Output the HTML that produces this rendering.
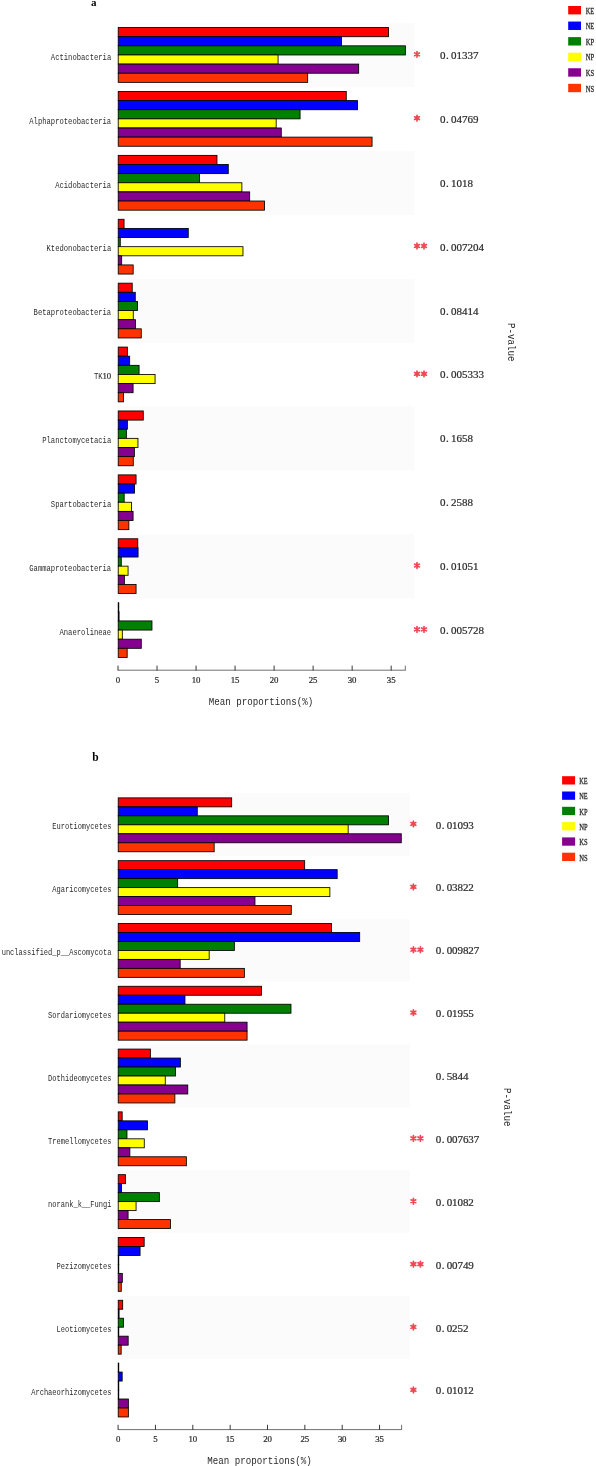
<!DOCTYPE html>
<html><head><meta charset="utf-8"><title>Mean proportions</title>
<style>
html,body{margin:0;padding:0;background:#fff;}
body{width:596px;height:1466px;overflow:hidden;font-family:"Liberation Mono",monospace;}
svg{display:block}
svg text{font-family:"Liberation Mono",monospace;fill:#2a2a2a;}
svg text.sf{font-family:"Liberation Serif",serif;}
</style></head><body>
<svg width="596" height="1466" viewBox="0 0 596 1466">
<rect width="596" height="1466" fill="#fff"/>
<rect x="117.8" y="23.15" width="296.40" height="63.90" fill="#fbfbfb"/>
<rect x="117.8" y="150.95" width="296.40" height="63.90" fill="#fbfbfb"/>
<rect x="117.8" y="278.75" width="296.40" height="63.90" fill="#fbfbfb"/>
<rect x="117.8" y="406.55" width="296.40" height="63.90" fill="#fbfbfb"/>
<rect x="117.8" y="534.35" width="296.40" height="63.90" fill="#fbfbfb"/>
<rect x="118.22" y="27.57" width="270.25" height="9.13" fill="#ff0000" stroke="#000" stroke-width="0.85"/>
<rect x="118.22" y="36.70" width="223.25" height="9.13" fill="#0000ff" stroke="#000" stroke-width="0.85"/>
<rect x="118.22" y="45.83" width="287.15" height="9.13" fill="#008000" stroke="#000" stroke-width="0.85"/>
<rect x="118.22" y="54.96" width="159.85" height="9.13" fill="#ffff00" stroke="#000" stroke-width="0.85"/>
<rect x="118.22" y="64.09" width="240.45" height="9.13" fill="#860090" stroke="#000" stroke-width="0.85"/>
<rect x="118.22" y="73.23" width="189.45" height="9.13" fill="#ff3300" stroke="#000" stroke-width="0.85"/>
<path transform="translate(417.00,54.30)" d="M0 -2.8V2.8M-2.4 -1.4L2.4 1.4M-2.4 1.4L2.4 -1.4" stroke="#f04852" stroke-width="1.7" stroke-linecap="round" fill="none"/>
<rect x="118.22" y="91.47" width="228.05" height="9.13" fill="#ff0000" stroke="#000" stroke-width="0.85"/>
<rect x="118.22" y="100.60" width="239.35" height="9.13" fill="#0000ff" stroke="#000" stroke-width="0.85"/>
<rect x="118.22" y="109.73" width="181.85" height="9.13" fill="#008000" stroke="#000" stroke-width="0.85"/>
<rect x="118.22" y="118.86" width="157.95" height="9.13" fill="#ffff00" stroke="#000" stroke-width="0.85"/>
<rect x="118.22" y="127.99" width="163.05" height="9.13" fill="#860090" stroke="#000" stroke-width="0.85"/>
<rect x="118.22" y="137.12" width="253.85" height="9.13" fill="#ff3300" stroke="#000" stroke-width="0.85"/>
<path transform="translate(417.00,118.20)" d="M0 -2.8V2.8M-2.4 -1.4L2.4 1.4M-2.4 1.4L2.4 -1.4" stroke="#f04852" stroke-width="1.7" stroke-linecap="round" fill="none"/>
<rect x="118.22" y="155.38" width="98.75" height="9.13" fill="#ff0000" stroke="#000" stroke-width="0.85"/>
<rect x="118.22" y="164.50" width="110.05" height="9.13" fill="#0000ff" stroke="#000" stroke-width="0.85"/>
<rect x="118.22" y="173.63" width="81.25" height="9.13" fill="#008000" stroke="#000" stroke-width="0.85"/>
<rect x="118.22" y="182.76" width="123.65" height="9.13" fill="#ffff00" stroke="#000" stroke-width="0.85"/>
<rect x="118.22" y="191.90" width="131.45" height="9.13" fill="#860090" stroke="#000" stroke-width="0.85"/>
<rect x="118.22" y="201.03" width="146.25" height="9.13" fill="#ff3300" stroke="#000" stroke-width="0.85"/>
<rect x="118.22" y="219.28" width="5.85" height="9.13" fill="#ff0000" stroke="#000" stroke-width="0.85"/>
<rect x="118.22" y="228.41" width="70.05" height="9.13" fill="#0000ff" stroke="#000" stroke-width="0.85"/>
<rect x="118.22" y="237.53" width="2.05" height="9.13" fill="#008000" stroke="#000" stroke-width="0.85"/>
<rect x="118.22" y="246.67" width="124.75" height="9.13" fill="#ffff00" stroke="#000" stroke-width="0.85"/>
<rect x="118.22" y="255.80" width="3.45" height="9.13" fill="#860090" stroke="#000" stroke-width="0.85"/>
<rect x="118.22" y="264.93" width="14.95" height="9.13" fill="#ff3300" stroke="#000" stroke-width="0.85"/>
<path transform="translate(417.00,246.00)" d="M0 -2.8V2.8M-2.4 -1.4L2.4 1.4M-2.4 1.4L2.4 -1.4" stroke="#f04852" stroke-width="1.7" stroke-linecap="round" fill="none"/>
<path transform="translate(424.00,246.00)" d="M0 -2.8V2.8M-2.4 -1.4L2.4 1.4M-2.4 1.4L2.4 -1.4" stroke="#f04852" stroke-width="1.7" stroke-linecap="round" fill="none"/>
<rect x="118.22" y="283.18" width="14.00" height="9.13" fill="#ff0000" stroke="#000" stroke-width="0.85"/>
<rect x="118.22" y="292.31" width="17.05" height="9.13" fill="#0000ff" stroke="#000" stroke-width="0.85"/>
<rect x="118.22" y="301.44" width="19.35" height="9.13" fill="#008000" stroke="#000" stroke-width="0.85"/>
<rect x="118.22" y="310.56" width="15.05" height="9.13" fill="#ffff00" stroke="#000" stroke-width="0.85"/>
<rect x="118.22" y="319.69" width="17.35" height="9.13" fill="#860090" stroke="#000" stroke-width="0.85"/>
<rect x="118.22" y="328.82" width="23.05" height="9.13" fill="#ff3300" stroke="#000" stroke-width="0.85"/>
<rect x="118.22" y="347.07" width="9.15" height="9.13" fill="#ff0000" stroke="#000" stroke-width="0.85"/>
<rect x="118.22" y="356.20" width="11.45" height="9.13" fill="#0000ff" stroke="#000" stroke-width="0.85"/>
<rect x="118.22" y="365.33" width="20.85" height="9.13" fill="#008000" stroke="#000" stroke-width="0.85"/>
<rect x="118.22" y="374.46" width="36.85" height="9.13" fill="#ffff00" stroke="#000" stroke-width="0.85"/>
<rect x="118.22" y="383.59" width="14.85" height="9.13" fill="#860090" stroke="#000" stroke-width="0.85"/>
<rect x="118.22" y="392.72" width="5.25" height="9.13" fill="#ff3300" stroke="#000" stroke-width="0.85"/>
<path transform="translate(417.00,373.80)" d="M0 -2.8V2.8M-2.4 -1.4L2.4 1.4M-2.4 1.4L2.4 -1.4" stroke="#f04852" stroke-width="1.7" stroke-linecap="round" fill="none"/>
<path transform="translate(424.00,373.80)" d="M0 -2.8V2.8M-2.4 -1.4L2.4 1.4M-2.4 1.4L2.4 -1.4" stroke="#f04852" stroke-width="1.7" stroke-linecap="round" fill="none"/>
<rect x="118.22" y="410.97" width="25.05" height="9.13" fill="#ff0000" stroke="#000" stroke-width="0.85"/>
<rect x="118.22" y="420.10" width="9.15" height="9.13" fill="#0000ff" stroke="#000" stroke-width="0.85"/>
<rect x="118.22" y="429.23" width="8.15" height="9.13" fill="#008000" stroke="#000" stroke-width="0.85"/>
<rect x="118.22" y="438.36" width="19.75" height="9.13" fill="#ffff00" stroke="#000" stroke-width="0.85"/>
<rect x="118.22" y="447.49" width="16.15" height="9.13" fill="#860090" stroke="#000" stroke-width="0.85"/>
<rect x="118.22" y="456.62" width="15.05" height="9.13" fill="#ff3300" stroke="#000" stroke-width="0.85"/>
<rect x="118.22" y="474.88" width="17.85" height="9.13" fill="#ff0000" stroke="#000" stroke-width="0.85"/>
<rect x="118.22" y="484.00" width="16.35" height="9.13" fill="#0000ff" stroke="#000" stroke-width="0.85"/>
<rect x="118.22" y="493.13" width="5.95" height="9.13" fill="#008000" stroke="#000" stroke-width="0.85"/>
<rect x="118.22" y="502.26" width="13.35" height="9.13" fill="#ffff00" stroke="#000" stroke-width="0.85"/>
<rect x="118.22" y="511.39" width="14.85" height="9.13" fill="#860090" stroke="#000" stroke-width="0.85"/>
<rect x="118.22" y="520.52" width="10.65" height="9.13" fill="#ff3300" stroke="#000" stroke-width="0.85"/>
<rect x="118.22" y="538.77" width="19.55" height="9.13" fill="#ff0000" stroke="#000" stroke-width="0.85"/>
<rect x="118.22" y="547.90" width="19.85" height="9.13" fill="#0000ff" stroke="#000" stroke-width="0.85"/>
<rect x="118.22" y="557.03" width="3.05" height="9.13" fill="#008000" stroke="#000" stroke-width="0.85"/>
<rect x="118.22" y="566.16" width="9.85" height="9.13" fill="#ffff00" stroke="#000" stroke-width="0.85"/>
<rect x="118.22" y="575.29" width="6.15" height="9.13" fill="#860090" stroke="#000" stroke-width="0.85"/>
<rect x="118.22" y="584.42" width="17.85" height="9.13" fill="#ff3300" stroke="#000" stroke-width="0.85"/>
<path transform="translate(417.00,565.50)" d="M0 -2.8V2.8M-2.4 -1.4L2.4 1.4M-2.4 1.4L2.4 -1.4" stroke="#f04852" stroke-width="1.7" stroke-linecap="round" fill="none"/>
<rect x="118.22" y="602.67" width="0.55" height="9.13" fill="#ff0000" stroke="#000" stroke-width="0.85"/>
<rect x="118.22" y="611.80" width="0.85" height="9.13" fill="#0000ff" stroke="#000" stroke-width="0.85"/>
<rect x="118.22" y="620.93" width="33.75" height="9.13" fill="#008000" stroke="#000" stroke-width="0.85"/>
<rect x="118.22" y="630.06" width="4.10" height="9.13" fill="#ffff00" stroke="#000" stroke-width="0.85"/>
<rect x="118.22" y="639.19" width="23.05" height="9.13" fill="#860090" stroke="#000" stroke-width="0.85"/>
<rect x="118.22" y="648.32" width="8.95" height="9.13" fill="#ff3300" stroke="#000" stroke-width="0.85"/>
<path transform="translate(417.00,629.40)" d="M0 -2.8V2.8M-2.4 -1.4L2.4 1.4M-2.4 1.4L2.4 -1.4" stroke="#f04852" stroke-width="1.7" stroke-linecap="round" fill="none"/>
<path transform="translate(424.00,629.40)" d="M0 -2.8V2.8M-2.4 -1.4L2.4 1.4M-2.4 1.4L2.4 -1.4" stroke="#f04852" stroke-width="1.7" stroke-linecap="round" fill="none"/>
<path d="M118.00 670.20H405.30" stroke="#707070" stroke-width="1" fill="none"/>
<path d="M118.00 665.60V670.60M157.03 665.60V670.60M196.05 665.60V670.60M235.07 665.60V670.60M274.10 665.60V670.60M313.12 665.60V670.60M352.15 665.60V670.60M391.18 665.60V670.60" stroke="#383838" stroke-width="1" fill="none"/>
<path d="M405.30 665.60V670.60" stroke="#707070" stroke-width="1" fill="none"/>
<rect x="568.2" y="6.00" width="12.8" height="8.4" fill="#ff0000"/>
<rect x="568.2" y="21.56" width="12.8" height="8.4" fill="#0000ff"/>
<rect x="568.2" y="37.12" width="12.8" height="8.4" fill="#008000"/>
<rect x="568.2" y="52.68" width="12.8" height="8.4" fill="#ffff00"/>
<rect x="568.2" y="68.24" width="12.8" height="8.4" fill="#860090"/>
<rect x="568.2" y="83.80" width="12.8" height="8.4" fill="#ff3300"/>
<rect x="117.8" y="793.25" width="292.20" height="62.82" fill="#fbfbfb"/>
<rect x="117.8" y="918.89" width="292.20" height="62.82" fill="#fbfbfb"/>
<rect x="117.8" y="1044.53" width="292.20" height="62.82" fill="#fbfbfb"/>
<rect x="117.8" y="1170.17" width="292.20" height="62.82" fill="#fbfbfb"/>
<rect x="117.8" y="1295.81" width="292.20" height="62.82" fill="#fbfbfb"/>
<rect x="118.22" y="797.88" width="113.45" height="8.98" fill="#ff0000" stroke="#000" stroke-width="0.85"/>
<rect x="118.22" y="806.86" width="79.05" height="8.98" fill="#0000ff" stroke="#000" stroke-width="0.85"/>
<rect x="118.22" y="815.84" width="270.25" height="8.98" fill="#008000" stroke="#000" stroke-width="0.85"/>
<rect x="118.22" y="824.82" width="229.95" height="8.98" fill="#ffff00" stroke="#000" stroke-width="0.85"/>
<rect x="118.22" y="833.79" width="283.05" height="8.98" fill="#860090" stroke="#000" stroke-width="0.85"/>
<rect x="118.22" y="842.77" width="95.95" height="8.98" fill="#ff3300" stroke="#000" stroke-width="0.85"/>
<path transform="translate(413.40,823.95)" d="M0 -2.8V2.8M-2.4 -1.4L2.4 1.4M-2.4 1.4L2.4 -1.4" stroke="#f04852" stroke-width="1.7" stroke-linecap="round" fill="none"/>
<rect x="118.22" y="860.67" width="186.45" height="8.98" fill="#ff0000" stroke="#000" stroke-width="0.85"/>
<rect x="118.22" y="869.65" width="218.95" height="8.98" fill="#0000ff" stroke="#000" stroke-width="0.85"/>
<rect x="118.22" y="878.63" width="59.45" height="8.98" fill="#008000" stroke="#000" stroke-width="0.85"/>
<rect x="118.22" y="887.62" width="211.65" height="8.98" fill="#ffff00" stroke="#000" stroke-width="0.85"/>
<rect x="118.22" y="896.59" width="136.75" height="8.98" fill="#860090" stroke="#000" stroke-width="0.85"/>
<rect x="118.22" y="905.57" width="173.05" height="8.98" fill="#ff3300" stroke="#000" stroke-width="0.85"/>
<path transform="translate(413.40,886.83)" d="M0 -2.8V2.8M-2.4 -1.4L2.4 1.4M-2.4 1.4L2.4 -1.4" stroke="#f04852" stroke-width="1.7" stroke-linecap="round" fill="none"/>
<rect x="118.22" y="923.48" width="213.25" height="8.98" fill="#ff0000" stroke="#000" stroke-width="0.85"/>
<rect x="118.22" y="932.46" width="241.45" height="8.98" fill="#0000ff" stroke="#000" stroke-width="0.85"/>
<rect x="118.22" y="941.44" width="116.15" height="8.98" fill="#008000" stroke="#000" stroke-width="0.85"/>
<rect x="118.22" y="950.42" width="90.95" height="8.98" fill="#ffff00" stroke="#000" stroke-width="0.85"/>
<rect x="118.22" y="959.39" width="61.95" height="8.98" fill="#860090" stroke="#000" stroke-width="0.85"/>
<rect x="118.22" y="968.38" width="126.15" height="8.98" fill="#ff3300" stroke="#000" stroke-width="0.85"/>
<path transform="translate(413.40,949.71)" d="M0 -2.8V2.8M-2.4 -1.4L2.4 1.4M-2.4 1.4L2.4 -1.4" stroke="#f04852" stroke-width="1.7" stroke-linecap="round" fill="none"/>
<path transform="translate(420.40,949.71)" d="M0 -2.8V2.8M-2.4 -1.4L2.4 1.4M-2.4 1.4L2.4 -1.4" stroke="#f04852" stroke-width="1.7" stroke-linecap="round" fill="none"/>
<rect x="118.22" y="986.27" width="143.25" height="8.98" fill="#ff0000" stroke="#000" stroke-width="0.85"/>
<rect x="118.22" y="995.25" width="66.75" height="8.98" fill="#0000ff" stroke="#000" stroke-width="0.85"/>
<rect x="118.22" y="1004.24" width="172.75" height="8.98" fill="#008000" stroke="#000" stroke-width="0.85"/>
<rect x="118.22" y="1013.22" width="106.55" height="8.98" fill="#ffff00" stroke="#000" stroke-width="0.85"/>
<rect x="118.22" y="1022.19" width="128.85" height="8.98" fill="#860090" stroke="#000" stroke-width="0.85"/>
<rect x="118.22" y="1031.17" width="128.85" height="8.98" fill="#ff3300" stroke="#000" stroke-width="0.85"/>
<path transform="translate(413.40,1012.59)" d="M0 -2.8V2.8M-2.4 -1.4L2.4 1.4M-2.4 1.4L2.4 -1.4" stroke="#f04852" stroke-width="1.7" stroke-linecap="round" fill="none"/>
<rect x="118.22" y="1049.08" width="32.15" height="8.98" fill="#ff0000" stroke="#000" stroke-width="0.85"/>
<rect x="118.22" y="1058.06" width="62.15" height="8.98" fill="#0000ff" stroke="#000" stroke-width="0.85"/>
<rect x="118.22" y="1067.04" width="57.25" height="8.98" fill="#008000" stroke="#000" stroke-width="0.85"/>
<rect x="118.22" y="1076.02" width="47.05" height="8.98" fill="#ffff00" stroke="#000" stroke-width="0.85"/>
<rect x="118.22" y="1085.00" width="69.55" height="8.98" fill="#860090" stroke="#000" stroke-width="0.85"/>
<rect x="118.22" y="1093.98" width="56.65" height="8.98" fill="#ff3300" stroke="#000" stroke-width="0.85"/>
<rect x="118.22" y="1111.88" width="3.95" height="8.98" fill="#ff0000" stroke="#000" stroke-width="0.85"/>
<rect x="118.22" y="1120.86" width="29.25" height="8.98" fill="#0000ff" stroke="#000" stroke-width="0.85"/>
<rect x="118.22" y="1129.84" width="8.75" height="8.98" fill="#008000" stroke="#000" stroke-width="0.85"/>
<rect x="118.22" y="1138.82" width="26.05" height="8.98" fill="#ffff00" stroke="#000" stroke-width="0.85"/>
<rect x="118.22" y="1147.80" width="11.65" height="8.98" fill="#860090" stroke="#000" stroke-width="0.85"/>
<rect x="118.22" y="1156.78" width="68.15" height="8.98" fill="#ff3300" stroke="#000" stroke-width="0.85"/>
<path transform="translate(413.40,1138.35)" d="M0 -2.8V2.8M-2.4 -1.4L2.4 1.4M-2.4 1.4L2.4 -1.4" stroke="#f04852" stroke-width="1.7" stroke-linecap="round" fill="none"/>
<path transform="translate(420.40,1138.35)" d="M0 -2.8V2.8M-2.4 -1.4L2.4 1.4M-2.4 1.4L2.4 -1.4" stroke="#f04852" stroke-width="1.7" stroke-linecap="round" fill="none"/>
<rect x="118.22" y="1174.67" width="7.25" height="8.98" fill="#ff0000" stroke="#000" stroke-width="0.85"/>
<rect x="118.22" y="1183.65" width="3.25" height="8.98" fill="#0000ff" stroke="#000" stroke-width="0.85"/>
<rect x="118.22" y="1192.63" width="41.15" height="8.98" fill="#008000" stroke="#000" stroke-width="0.85"/>
<rect x="118.22" y="1201.62" width="17.85" height="8.98" fill="#ffff00" stroke="#000" stroke-width="0.85"/>
<rect x="118.22" y="1210.60" width="9.85" height="8.98" fill="#860090" stroke="#000" stroke-width="0.85"/>
<rect x="118.22" y="1219.58" width="52.25" height="8.98" fill="#ff3300" stroke="#000" stroke-width="0.85"/>
<path transform="translate(413.40,1201.23)" d="M0 -2.8V2.8M-2.4 -1.4L2.4 1.4M-2.4 1.4L2.4 -1.4" stroke="#f04852" stroke-width="1.7" stroke-linecap="round" fill="none"/>
<rect x="118.22" y="1237.47" width="25.95" height="8.98" fill="#ff0000" stroke="#000" stroke-width="0.85"/>
<rect x="118.22" y="1246.45" width="21.85" height="8.98" fill="#0000ff" stroke="#000" stroke-width="0.85"/>
<rect x="118.22" y="1255.43" width="0.55" height="8.98" fill="#008000" stroke="#000" stroke-width="0.85"/>
<rect x="118.22" y="1264.41" width="0.55" height="8.98" fill="#ffff00" stroke="#000" stroke-width="0.85"/>
<rect x="118.22" y="1273.39" width="4.10" height="8.98" fill="#860090" stroke="#000" stroke-width="0.85"/>
<rect x="118.22" y="1282.38" width="3.05" height="8.98" fill="#ff3300" stroke="#000" stroke-width="0.85"/>
<path transform="translate(413.40,1264.11)" d="M0 -2.8V2.8M-2.4 -1.4L2.4 1.4M-2.4 1.4L2.4 -1.4" stroke="#f04852" stroke-width="1.7" stroke-linecap="round" fill="none"/>
<path transform="translate(420.40,1264.11)" d="M0 -2.8V2.8M-2.4 -1.4L2.4 1.4M-2.4 1.4L2.4 -1.4" stroke="#f04852" stroke-width="1.7" stroke-linecap="round" fill="none"/>
<rect x="118.22" y="1300.27" width="4.45" height="8.98" fill="#ff0000" stroke="#000" stroke-width="0.85"/>
<rect x="118.22" y="1309.25" width="0.85" height="8.98" fill="#0000ff" stroke="#000" stroke-width="0.85"/>
<rect x="118.22" y="1318.23" width="5.25" height="8.98" fill="#008000" stroke="#000" stroke-width="0.85"/>
<rect x="118.22" y="1327.21" width="0.55" height="8.98" fill="#ffff00" stroke="#000" stroke-width="0.85"/>
<rect x="118.22" y="1336.19" width="9.95" height="8.98" fill="#860090" stroke="#000" stroke-width="0.85"/>
<rect x="118.22" y="1345.17" width="2.95" height="8.98" fill="#ff3300" stroke="#000" stroke-width="0.85"/>
<path transform="translate(413.40,1326.99)" d="M0 -2.8V2.8M-2.4 -1.4L2.4 1.4M-2.4 1.4L2.4 -1.4" stroke="#f04852" stroke-width="1.7" stroke-linecap="round" fill="none"/>
<rect x="118.22" y="1363.08" width="0.55" height="8.98" fill="#ff0000" stroke="#000" stroke-width="0.85"/>
<rect x="118.22" y="1372.06" width="3.95" height="8.98" fill="#0000ff" stroke="#000" stroke-width="0.85"/>
<rect x="118.22" y="1381.04" width="0.55" height="8.98" fill="#008000" stroke="#000" stroke-width="0.85"/>
<rect x="118.22" y="1390.02" width="0.55" height="8.98" fill="#ffff00" stroke="#000" stroke-width="0.85"/>
<rect x="118.22" y="1399.00" width="10.15" height="8.98" fill="#860090" stroke="#000" stroke-width="0.85"/>
<rect x="118.22" y="1407.98" width="10.15" height="8.98" fill="#ff3300" stroke="#000" stroke-width="0.85"/>
<path transform="translate(413.40,1389.87)" d="M0 -2.8V2.8M-2.4 -1.4L2.4 1.4M-2.4 1.4L2.4 -1.4" stroke="#f04852" stroke-width="1.7" stroke-linecap="round" fill="none"/>
<path d="M118.10 1429.60H401.60" stroke="#707070" stroke-width="1" fill="none"/>
<path d="M118.10 1424.80V1430.00M155.45 1424.80V1430.00M192.80 1424.80V1430.00M230.15 1424.80V1430.00M267.50 1424.80V1430.00M304.85 1424.80V1430.00M342.20 1424.80V1430.00M379.55 1424.80V1430.00" stroke="#383838" stroke-width="1" fill="none"/>
<path d="M401.60 1424.80V1430.00" stroke="#707070" stroke-width="1" fill="none"/>
<rect x="562.1" y="776.20" width="13.0" height="8.3" fill="#ff0000"/>
<rect x="562.1" y="791.50" width="13.0" height="8.3" fill="#0000ff"/>
<rect x="562.1" y="806.80" width="13.0" height="8.3" fill="#008000"/>
<rect x="562.1" y="822.10" width="13.0" height="8.3" fill="#ffff00"/>
<rect x="562.1" y="837.40" width="13.0" height="8.3" fill="#860090"/>
<rect x="562.1" y="852.70" width="13.0" height="8.3" fill="#ff3300"/>
<g opacity="0.999">
<text x="91.0" y="6.0" class="sf" font-weight="bold" font-size="11" style="fill:#000">a</text>
<text x="50.86" y="59.70" font-size="8.8" textLength="60.34" lengthAdjust="spacingAndGlyphs" >Actinobacteria</text>
<text y="58.90" font-size="11" class="sf" text-anchor="middle" stroke="#2a2a2a" stroke-width="0.22"><tspan x="442.75">0</tspan><tspan x="447.40">.</tspan><tspan x="453.75">0</tspan><tspan x="459.25">1</tspan><tspan x="464.75">3</tspan><tspan x="470.25">3</tspan><tspan x="475.75">7</tspan></text>
<text x="29.31" y="123.60" font-size="8.8" textLength="81.89" lengthAdjust="spacingAndGlyphs" >Alphaproteobacteria</text>
<text y="122.80" font-size="11" class="sf" text-anchor="middle" stroke="#2a2a2a" stroke-width="0.22"><tspan x="442.75">0</tspan><tspan x="447.40">.</tspan><tspan x="453.75">0</tspan><tspan x="459.25">4</tspan><tspan x="464.75">7</tspan><tspan x="470.25">6</tspan><tspan x="475.75">9</tspan></text>
<text x="55.17" y="187.50" font-size="8.8" textLength="56.03" lengthAdjust="spacingAndGlyphs" >Acidobacteria</text>
<text y="186.70" font-size="11" class="sf" text-anchor="middle" stroke="#2a2a2a" stroke-width="0.22"><tspan x="442.75">0</tspan><tspan x="447.40">.</tspan><tspan x="453.75">1</tspan><tspan x="459.25">0</tspan><tspan x="464.75">1</tspan><tspan x="470.25">8</tspan></text>
<text x="46.55" y="251.40" font-size="8.8" textLength="64.65" lengthAdjust="spacingAndGlyphs" >Ktedonobacteria</text>
<text y="250.60" font-size="11" class="sf" text-anchor="middle" stroke="#2a2a2a" stroke-width="0.22"><tspan x="442.75">0</tspan><tspan x="447.40">.</tspan><tspan x="453.75">0</tspan><tspan x="459.25">0</tspan><tspan x="464.75">7</tspan><tspan x="470.25">2</tspan><tspan x="475.75">0</tspan><tspan x="481.25">4</tspan></text>
<text x="33.62" y="315.30" font-size="8.8" textLength="77.58" lengthAdjust="spacingAndGlyphs" >Betaproteobacteria</text>
<text y="314.50" font-size="11" class="sf" text-anchor="middle" stroke="#2a2a2a" stroke-width="0.22"><tspan x="442.75">0</tspan><tspan x="447.40">.</tspan><tspan x="453.75">0</tspan><tspan x="459.25">8</tspan><tspan x="464.75">4</tspan><tspan x="470.25">1</tspan><tspan x="475.75">4</tspan></text>
<text x="93.96" y="379.20" font-size="8.8" textLength="8.62" lengthAdjust="spacingAndGlyphs" >TK</text>
<text y="379.20" font-size="8.8" class="sf" text-anchor="middle" stroke="#2a2a2a" stroke-width="0.22"><tspan x="104.73">1</tspan><tspan x="109.05">0</tspan></text>
<text y="378.40" font-size="11" class="sf" text-anchor="middle" stroke="#2a2a2a" stroke-width="0.22"><tspan x="442.75">0</tspan><tspan x="447.40">.</tspan><tspan x="453.75">0</tspan><tspan x="459.25">0</tspan><tspan x="464.75">5</tspan><tspan x="470.25">3</tspan><tspan x="475.75">3</tspan><tspan x="481.25">3</tspan></text>
<text x="42.24" y="443.10" font-size="8.8" textLength="68.96" lengthAdjust="spacingAndGlyphs" >Planctomycetacia</text>
<text y="442.30" font-size="11" class="sf" text-anchor="middle" stroke="#2a2a2a" stroke-width="0.22"><tspan x="442.75">0</tspan><tspan x="447.40">.</tspan><tspan x="453.75">1</tspan><tspan x="459.25">6</tspan><tspan x="464.75">5</tspan><tspan x="470.25">8</tspan></text>
<text x="50.86" y="507.00" font-size="8.8" textLength="60.34" lengthAdjust="spacingAndGlyphs" >Spartobacteria</text>
<text y="506.20" font-size="11" class="sf" text-anchor="middle" stroke="#2a2a2a" stroke-width="0.22"><tspan x="442.75">0</tspan><tspan x="447.40">.</tspan><tspan x="453.75">2</tspan><tspan x="459.25">5</tspan><tspan x="464.75">8</tspan><tspan x="470.25">8</tspan></text>
<text x="29.31" y="570.90" font-size="8.8" textLength="81.89" lengthAdjust="spacingAndGlyphs" >Gammaproteobacteria</text>
<text y="570.10" font-size="11" class="sf" text-anchor="middle" stroke="#2a2a2a" stroke-width="0.22"><tspan x="442.75">0</tspan><tspan x="447.40">.</tspan><tspan x="453.75">0</tspan><tspan x="459.25">1</tspan><tspan x="464.75">0</tspan><tspan x="470.25">5</tspan><tspan x="475.75">1</tspan></text>
<text x="59.48" y="634.80" font-size="8.8" textLength="51.72" lengthAdjust="spacingAndGlyphs" >Anaerolineae</text>
<text y="634.00" font-size="11" class="sf" text-anchor="middle" stroke="#2a2a2a" stroke-width="0.22"><tspan x="442.75">0</tspan><tspan x="447.40">.</tspan><tspan x="453.75">0</tspan><tspan x="459.25">0</tspan><tspan x="464.75">5</tspan><tspan x="470.25">7</tspan><tspan x="475.75">2</tspan><tspan x="481.25">8</tspan></text>
<text y="683.00" font-size="8.8" class="sf" text-anchor="middle" stroke="#2a2a2a" stroke-width="0.22"><tspan x="118.00">0</tspan></text>
<text y="683.00" font-size="8.8" class="sf" text-anchor="middle" stroke="#2a2a2a" stroke-width="0.22"><tspan x="157.03">5</tspan></text>
<text y="683.00" font-size="8.8" class="sf" text-anchor="middle" stroke="#2a2a2a" stroke-width="0.22"><tspan x="193.90">1</tspan><tspan x="198.21">0</tspan></text>
<text y="683.00" font-size="8.8" class="sf" text-anchor="middle" stroke="#2a2a2a" stroke-width="0.22"><tspan x="232.92">1</tspan><tspan x="237.23">5</tspan></text>
<text y="683.00" font-size="8.8" class="sf" text-anchor="middle" stroke="#2a2a2a" stroke-width="0.22"><tspan x="271.94">2</tspan><tspan x="276.25">0</tspan></text>
<text y="683.00" font-size="8.8" class="sf" text-anchor="middle" stroke="#2a2a2a" stroke-width="0.22"><tspan x="310.97">2</tspan><tspan x="315.28">5</tspan></text>
<text y="683.00" font-size="8.8" class="sf" text-anchor="middle" stroke="#2a2a2a" stroke-width="0.22"><tspan x="349.99">3</tspan><tspan x="354.30">0</tspan></text>
<text y="683.00" font-size="8.8" class="sf" text-anchor="middle" stroke="#2a2a2a" stroke-width="0.22"><tspan x="389.02">3</tspan><tspan x="393.33">5</tspan></text>
<text x="208.84" y="704.60" font-size="10.6" textLength="104.31" lengthAdjust="spacingAndGlyphs" >Mean proportions(%)</text>
<g transform="translate(508.40,342.30) rotate(90)"><text x="-19.25" y="0.00" font-size="10.6" textLength="38.50" lengthAdjust="spacingAndGlyphs" >P-value</text></g>
<text x="585.70" y="13.80" font-size="9.0" textLength="8.40" lengthAdjust="spacingAndGlyphs" class="sf" stroke="#2a2a2a" stroke-width="0.3">KE</text>
<text x="585.70" y="29.36" font-size="9.0" textLength="8.40" lengthAdjust="spacingAndGlyphs" class="sf" stroke="#2a2a2a" stroke-width="0.3">NE</text>
<text x="585.70" y="44.92" font-size="9.0" textLength="8.40" lengthAdjust="spacingAndGlyphs" class="sf" stroke="#2a2a2a" stroke-width="0.3">KP</text>
<text x="585.70" y="60.48" font-size="9.0" textLength="8.40" lengthAdjust="spacingAndGlyphs" class="sf" stroke="#2a2a2a" stroke-width="0.3">NP</text>
<text x="585.70" y="76.04" font-size="9.0" textLength="8.40" lengthAdjust="spacingAndGlyphs" class="sf" stroke="#2a2a2a" stroke-width="0.3">KS</text>
<text x="585.70" y="91.60" font-size="9.0" textLength="8.40" lengthAdjust="spacingAndGlyphs" class="sf" stroke="#2a2a2a" stroke-width="0.3">NS</text>
<text x="92.2" y="760.7" class="sf" font-weight="bold" font-size="11.5" style="fill:#000">b</text>
<text x="52.32" y="829.25" font-size="8.7" textLength="59.08" lengthAdjust="spacingAndGlyphs" >Eurotiomycetes</text>
<text y="828.55" font-size="11" class="sf" text-anchor="middle" stroke="#2a2a2a" stroke-width="0.22"><tspan x="438.60">0</tspan><tspan x="443.21">.</tspan><tspan x="449.42">0</tspan><tspan x="454.83">1</tspan><tspan x="460.25">0</tspan><tspan x="465.65">9</tspan><tspan x="471.06">3</tspan></text>
<text x="52.32" y="892.13" font-size="8.7" textLength="59.08" lengthAdjust="spacingAndGlyphs" >Agaricomycetes</text>
<text y="891.43" font-size="11" class="sf" text-anchor="middle" stroke="#2a2a2a" stroke-width="0.22"><tspan x="438.60">0</tspan><tspan x="443.21">.</tspan><tspan x="449.42">0</tspan><tspan x="454.83">3</tspan><tspan x="460.25">8</tspan><tspan x="465.65">2</tspan><tspan x="471.06">2</tspan></text>
<text x="1.68" y="955.01" font-size="8.7" textLength="109.72" lengthAdjust="spacingAndGlyphs" >unclassified_p__Ascomycota</text>
<text y="954.31" font-size="11" class="sf" text-anchor="middle" stroke="#2a2a2a" stroke-width="0.22"><tspan x="438.60">0</tspan><tspan x="443.21">.</tspan><tspan x="449.42">0</tspan><tspan x="454.83">0</tspan><tspan x="460.25">9</tspan><tspan x="465.65">8</tspan><tspan x="471.06">2</tspan><tspan x="476.47">7</tspan></text>
<text x="48.10" y="1017.89" font-size="8.7" textLength="63.30" lengthAdjust="spacingAndGlyphs" >Sordariomycetes</text>
<text y="1017.19" font-size="11" class="sf" text-anchor="middle" stroke="#2a2a2a" stroke-width="0.22"><tspan x="438.60">0</tspan><tspan x="443.21">.</tspan><tspan x="449.42">0</tspan><tspan x="454.83">1</tspan><tspan x="460.25">9</tspan><tspan x="465.65">5</tspan><tspan x="471.06">5</tspan></text>
<text x="48.10" y="1080.77" font-size="8.7" textLength="63.30" lengthAdjust="spacingAndGlyphs" >Dothideomycetes</text>
<text y="1080.07" font-size="11" class="sf" text-anchor="middle" stroke="#2a2a2a" stroke-width="0.22"><tspan x="438.60">0</tspan><tspan x="443.21">.</tspan><tspan x="449.42">5</tspan><tspan x="454.83">8</tspan><tspan x="460.25">4</tspan><tspan x="465.65">4</tspan></text>
<text x="48.10" y="1143.65" font-size="8.7" textLength="63.30" lengthAdjust="spacingAndGlyphs" >Tremellomycetes</text>
<text y="1142.95" font-size="11" class="sf" text-anchor="middle" stroke="#2a2a2a" stroke-width="0.22"><tspan x="438.60">0</tspan><tspan x="443.21">.</tspan><tspan x="449.42">0</tspan><tspan x="454.83">0</tspan><tspan x="460.25">7</tspan><tspan x="465.65">6</tspan><tspan x="471.06">3</tspan><tspan x="476.47">7</tspan></text>
<text x="48.10" y="1206.53" font-size="8.7" textLength="63.30" lengthAdjust="spacingAndGlyphs" >norank_k__Fungi</text>
<text y="1205.83" font-size="11" class="sf" text-anchor="middle" stroke="#2a2a2a" stroke-width="0.22"><tspan x="438.60">0</tspan><tspan x="443.21">.</tspan><tspan x="449.42">0</tspan><tspan x="454.83">1</tspan><tspan x="460.25">0</tspan><tspan x="465.65">8</tspan><tspan x="471.06">2</tspan></text>
<text x="56.54" y="1269.41" font-size="8.7" textLength="54.86" lengthAdjust="spacingAndGlyphs" >Pezizomycetes</text>
<text y="1268.71" font-size="11" class="sf" text-anchor="middle" stroke="#2a2a2a" stroke-width="0.22"><tspan x="438.60">0</tspan><tspan x="443.21">.</tspan><tspan x="449.42">0</tspan><tspan x="454.83">0</tspan><tspan x="460.25">7</tspan><tspan x="465.65">4</tspan><tspan x="471.06">9</tspan></text>
<text x="56.54" y="1332.29" font-size="8.7" textLength="54.86" lengthAdjust="spacingAndGlyphs" >Leotiomycetes</text>
<text y="1331.59" font-size="11" class="sf" text-anchor="middle" stroke="#2a2a2a" stroke-width="0.22"><tspan x="438.60">0</tspan><tspan x="443.21">.</tspan><tspan x="449.42">0</tspan><tspan x="454.83">2</tspan><tspan x="460.25">5</tspan><tspan x="465.65">2</tspan></text>
<text x="31.22" y="1395.17" font-size="8.7" textLength="80.18" lengthAdjust="spacingAndGlyphs" >Archaeorhizomycetes</text>
<text y="1394.47" font-size="11" class="sf" text-anchor="middle" stroke="#2a2a2a" stroke-width="0.22"><tspan x="438.60">0</tspan><tspan x="443.21">.</tspan><tspan x="449.42">0</tspan><tspan x="454.83">1</tspan><tspan x="460.25">0</tspan><tspan x="465.65">1</tspan><tspan x="471.06">2</tspan></text>
<text y="1442.00" font-size="8.8" class="sf" text-anchor="middle" stroke="#2a2a2a" stroke-width="0.22"><tspan x="118.10">0</tspan></text>
<text y="1442.00" font-size="8.8" class="sf" text-anchor="middle" stroke="#2a2a2a" stroke-width="0.22"><tspan x="155.45">5</tspan></text>
<text y="1442.00" font-size="8.8" class="sf" text-anchor="middle" stroke="#2a2a2a" stroke-width="0.22"><tspan x="190.69">1</tspan><tspan x="194.91">0</tspan></text>
<text y="1442.00" font-size="8.8" class="sf" text-anchor="middle" stroke="#2a2a2a" stroke-width="0.22"><tspan x="228.04">1</tspan><tspan x="232.26">5</tspan></text>
<text y="1442.00" font-size="8.8" class="sf" text-anchor="middle" stroke="#2a2a2a" stroke-width="0.22"><tspan x="265.39">2</tspan><tspan x="269.61">0</tspan></text>
<text y="1442.00" font-size="8.8" class="sf" text-anchor="middle" stroke="#2a2a2a" stroke-width="0.22"><tspan x="302.74">2</tspan><tspan x="306.96">5</tspan></text>
<text y="1442.00" font-size="8.8" class="sf" text-anchor="middle" stroke="#2a2a2a" stroke-width="0.22"><tspan x="340.09">3</tspan><tspan x="344.31">0</tspan></text>
<text y="1442.00" font-size="8.8" class="sf" text-anchor="middle" stroke="#2a2a2a" stroke-width="0.22"><tspan x="377.44">3</tspan><tspan x="381.66">5</tspan></text>
<text x="207.34" y="1464.30" font-size="10.6" textLength="104.31" lengthAdjust="spacingAndGlyphs" >Mean proportions(%)</text>
<g transform="translate(503.70,1107.20) rotate(90)"><text x="-19.25" y="0.00" font-size="10.6" textLength="38.50" lengthAdjust="spacingAndGlyphs" >P-value</text></g>
<text x="579.20" y="784.00" font-size="9.0" textLength="8.40" lengthAdjust="spacingAndGlyphs" class="sf" stroke="#2a2a2a" stroke-width="0.3">KE</text>
<text x="579.20" y="799.30" font-size="9.0" textLength="8.40" lengthAdjust="spacingAndGlyphs" class="sf" stroke="#2a2a2a" stroke-width="0.3">NE</text>
<text x="579.20" y="814.60" font-size="9.0" textLength="8.40" lengthAdjust="spacingAndGlyphs" class="sf" stroke="#2a2a2a" stroke-width="0.3">KP</text>
<text x="579.20" y="829.90" font-size="9.0" textLength="8.40" lengthAdjust="spacingAndGlyphs" class="sf" stroke="#2a2a2a" stroke-width="0.3">NP</text>
<text x="579.20" y="845.20" font-size="9.0" textLength="8.40" lengthAdjust="spacingAndGlyphs" class="sf" stroke="#2a2a2a" stroke-width="0.3">KS</text>
<text x="579.20" y="860.50" font-size="9.0" textLength="8.40" lengthAdjust="spacingAndGlyphs" class="sf" stroke="#2a2a2a" stroke-width="0.3">NS</text>
</g>
</svg>
</body></html>
